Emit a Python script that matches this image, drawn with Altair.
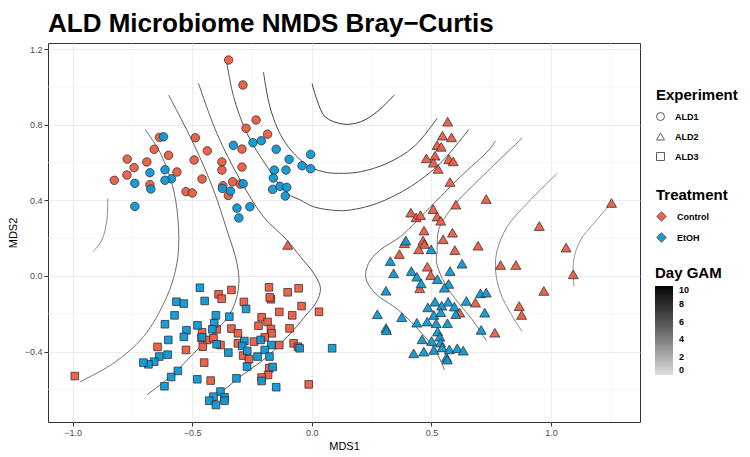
import altair as alt
import pandas as pd

# ---------------- point data ----------------
ald1_ctrl_x = [-0.348, -0.288, -0.233, -0.275, -0.185, -0.292, -0.637, -0.487, -0.659, -0.599,
               -0.437, -0.772, -0.690, -0.743, -0.773, -0.826, -0.677, -0.564, -0.492, -0.376,
               -0.376, -0.292, -0.459, -0.526, -0.500, -0.372, -0.331, -0.299, -0.349]
ald1_ctrl_y = [1.142, 1.010, 0.825, 0.781, 0.750, 0.671, 0.733, 0.731, 0.670, 0.638,
               0.662, 0.618, 0.603, 0.573, 0.534, 0.506, 0.483, 0.550, 0.613, 0.603,
               0.560, 0.576, 0.513, 0.446, 0.439, 0.477, 0.498, 0.486, 0.426]

ald1_etoh_x = [-0.620, -0.328, -0.246, -0.211, -0.149, -0.095, -0.005, -0.041, -0.005, -0.157,
               -0.108, -0.161, -0.164, -0.133, -0.105, -0.111, -0.287, -0.340, -0.374, -0.313,
               -0.259, -0.305, -0.614, -0.677, -0.587, -0.614, -0.740, -0.673, -0.740]
ald1_etoh_y = [0.736, 0.691, 0.705, 0.715, 0.670, 0.617, 0.643, 0.583, 0.567, 0.560,
               0.560, 0.518, 0.458, 0.474, 0.469, 0.423, 0.488, 0.449, 0.463, 0.359,
               0.366, 0.307, 0.562, 0.546, 0.514, 0.506, 0.490, 0.460, 0.368]

ald2_ctrl_x = [0.568, 0.546, 0.584, 0.524, 0.541, 0.479, 0.515, 0.508, 0.573, 0.591,
               0.528, 0.578, 0.729, 0.602, 0.414, 0.436, 0.454, 0.507, 0.524, 0.539,
               1.253, 0.951, 0.469, 0.588, 0.549, 0.465, 0.471, 0.447, 0.366, 0.387,
               0.598, 0.695, 1.063, 0.789, 0.853, 0.483, 0.497, 1.093, 0.451, 0.970,
               0.684, 0.867, 0.877, 0.765, 0.618, -0.101]
ald2_ctrl_y = [0.816, 0.742, 0.733, 0.692, 0.683, 0.622, 0.636, 0.599, 0.618, 0.606,
               0.566, 0.497, 0.407, 0.377, 0.335, 0.310, 0.322, 0.354, 0.314, 0.292,
               0.386, 0.264, 0.240, 0.229, 0.194, 0.187, 0.169, 0.141, 0.116, 0.173,
               0.137, 0.160, 0.150, 0.058, 0.058, 0.049, 0.005, 0.009, -0.065, -0.079,
               -0.141, -0.159, -0.206, -0.300, -0.194, 0.164]

ald2_etoh_x = [0.393, 0.499, 0.328, 0.342, 0.416, 0.439, 0.457, 0.525, 0.578, 0.628,
               0.572, 0.554, 0.310, 0.515, 0.570, 0.485, 0.543, 0.596, 0.646, 0.705,
               0.729, 0.723, 0.602, 0.510, 0.539, 0.274, 0.376, 0.439, 0.482, 0.520,
               0.567, 0.310, 0.312, 0.708, 0.526, 0.535, 0.461, 0.501, 0.538, 0.426,
               0.468, 0.510, 0.545, 0.575, 0.608, 0.633, 0.563, 0.566]
ald2_etoh_y = [0.187, 0.141, 0.079, 0.014, 0.026, -0.004, -0.039, -0.017, 0.026, 0.065,
               -0.042, -0.062, -0.078, -0.136, -0.136, -0.166, -0.157, -0.162, -0.132, -0.092,
               -0.088, -0.194, -0.202, -0.206, -0.192, -0.202, -0.218, -0.247, -0.241, -0.250,
               -0.250, -0.275, -0.287, -0.285, -0.294, -0.321, -0.335, -0.344, -0.352, -0.409,
               -0.400, -0.391, -0.377, -0.388, -0.382, -0.395, -0.430, -0.442]

ald3_ctrl_x = [-0.991, -0.390, -0.377, -0.336, -0.284, -0.179, -0.171, -0.176, -0.101, -0.055,
               0.030, -0.043, -0.136, -0.082, -0.210, -0.185, -0.223, -0.171, -0.168, -0.197,
               -0.093, -0.336, -0.309, -0.398, -0.459, -0.461, -0.437, -0.411, -0.456, -0.382,
               -0.309, -0.242, -0.136, -0.076, -0.058, -0.645, -0.526, -0.287, -0.263, -0.178,
               -0.183, -0.210, -0.450, -0.423, -0.013]
ald3_ctrl_y = [-0.529, -0.097, -0.120, -0.074, -0.137, -0.060, -0.123, -0.113, -0.086, -0.065,
               -0.189, -0.159, -0.190, -0.208, -0.218, -0.243, -0.263, -0.280, -0.303, -0.324,
               -0.277, -0.278, -0.303, -0.282, -0.298, -0.329, -0.338, -0.329, -0.374, -0.365,
               -0.356, -0.347, -0.365, -0.356, -0.374, -0.375, -0.391, -0.421, -0.440, -0.488,
               -0.523, -0.537, -0.458, -0.553, -0.573]

ald3_etoh_x = [-0.468, -0.448, -0.566, -0.535, -0.275, -0.574, -0.401, -0.345, -0.408, -0.416,
               -0.614, -0.524, -0.478, -0.535, -0.600, -0.459, -0.398, -0.282, -0.291, -0.270,
               -0.349, -0.214, -0.169, -0.197, -0.227, -0.177, -0.164, -0.271, -0.315, -0.210,
               -0.149, -0.051, 0.085, -0.603, -0.638, -0.659, -0.683, -0.704, -0.560, -0.588,
               -0.616, -0.479, -0.382, -0.411, -0.429, -0.401, -0.365, -0.365]
ald3_etoh_y = [-0.062, -0.132, -0.136, -0.146, -0.174, -0.208, -0.208, -0.215, -0.250, -0.282,
               -0.255, -0.287, -0.261, -0.322, -0.338, -0.324, -0.361, -0.344, -0.370, -0.396,
               -0.405, -0.338, -0.365, -0.391, -0.426, -0.426, -0.481, -0.479, -0.541, -0.555,
               -0.588, -0.382, -0.382, -0.416, -0.426, -0.453, -0.467, -0.458, -0.502, -0.534,
               -0.583, -0.546, -0.611, -0.638, -0.659, -0.682, -0.641, -0.659]

# ---------------- GAM contour lines (Day) ----------------
contour_levels = {"A": 7.0, "B": 6.4, "C": 6.1, "L4": 5.6, "L3": 5.2, "L2": 4.6, "L1": 3.5,
                  "D": 4.8, "E": 4.3, "F": 3.5, "G": 3.0}
contour_x = {
    "A": [0.001, 0.022, 0.056, 0.133, 0.203, 0.273, 0.345],
    "B": [-0.202, -0.190, -0.174, -0.144, -0.118, -0.076, -0.006, 0.064, 0.133, 0.203, 0.315, 0.426, 0.524],
    "C": [-0.355, -0.327, -0.271, -0.187, -0.104, -0.048, 0.008, 0.105, 0.161, 0.273, 0.412, 0.537, 0.656],
    "L4": [-0.474, -0.397, -0.299, -0.202, -0.104, -0.048, 0.008, 0.036, 0.018, -0.024, -0.076, -0.187, -0.299, -0.383],
    "L3": [-0.599, -0.495, -0.411, -0.355, -0.313, -0.306, -0.341, -0.467, -0.592, -0.690],
    "L2": [-0.697, -0.633, -0.578, -0.557, -0.564, -0.606, -0.704, -0.829, -0.969],
    "L1": [-0.853, -0.857, -0.878, -0.915],
    "D": [0.768, 0.740, 0.621, 0.510, 0.370, 0.286, 0.237, 0.226, 0.265, 0.362, 0.460, 0.516, 0.555],
    "E": [0.880, 0.713, 0.588, 0.531, 0.524, 0.522, 0.557, 0.614, 0.670, 0.730],
    "F": [1.026, 0.900, 0.817, 0.775, 0.768, 0.789, 0.831, 0.879],
    "G": [1.252, 1.179, 1.123, 1.095, 1.096],
}
contour_y = {
    "A": [1.018, 0.930, 0.841, 0.803, 0.815, 0.869, 0.957],
    "B": [1.077, 0.983, 0.888, 0.782, 0.719, 0.649, 0.576, 0.547, 0.543, 0.551, 0.596, 0.683, 0.834],
    "C": [1.124, 0.948, 0.754, 0.578, 0.437, 0.402, 0.366, 0.346, 0.349, 0.384, 0.472, 0.596, 0.775],
    "L4": [1.019, 0.754, 0.507, 0.313, 0.190, 0.102, 0.014, -0.064, -0.141, -0.206, -0.285, -0.427, -0.532, -0.620],
    "L3": [0.957, 0.701, 0.455, 0.243, 0.067, -0.057, -0.197, -0.374, -0.532, -0.629],
    "L2": [0.775, 0.649, 0.455, 0.243, 0.067, -0.109, -0.321, -0.461, -0.559],
    "L1": [0.411, 0.296, 0.190, 0.128],
    "D": [0.715, 0.666, 0.525, 0.384, 0.208, 0.138, 0.067, -0.012, -0.091, -0.180, -0.303, -0.391, -0.497],
    "E": [0.730, 0.527, 0.364, 0.247, 0.138, 0.068, -0.041, -0.144, -0.230, -0.342],
    "F": [0.543, 0.384, 0.261, 0.137, 0.032, -0.091, -0.197, -0.294],
    "G": [0.384, 0.279, 0.190, 0.085, -0.056],
}

minor_x = [-0.75, -0.25, 0.25, 0.75, 1.25]
minor_y = [-0.6, -0.2, 0.2, 0.6, 1.0]
major_x = [-1.0, -0.5, 0.0, 0.5, 1.0]
major_y = [-0.4, 0.0, 0.4, 0.8, 1.2]

experiments = ["ALD1", "ALD2", "ALD3"]
treatments = ["Control", "EtOH"]

# ---------------- tables ----------------
rows = []
for exp, trt, xs, ys in [
    ("ALD1", "Control", ald1_ctrl_x, ald1_ctrl_y),
    ("ALD1", "EtOH", ald1_etoh_x, ald1_etoh_y),
    ("ALD3", "Control", ald3_ctrl_x, ald3_ctrl_y),
    ("ALD3", "EtOH", ald3_etoh_x, ald3_etoh_y),
    ("ALD2", "Control", ald2_ctrl_x, ald2_ctrl_y),
    ("ALD2", "EtOH", ald2_etoh_x, ald2_etoh_y),
]:
    for x, y in zip(xs, ys):
        rows.append({"MDS1": x, "MDS2": y, "Experiment": exp, "Treatment": trt})
pts = pd.DataFrame(rows)
pts["ord"] = range(len(pts))

lrows = []
for name, lvl in contour_levels.items():
    for i, (x, y) in enumerate(zip(contour_x[name], contour_y[name])):
        lrows.append({"line": name, "i": i, "MDS1": x, "MDS2": y, "Day": lvl})
lines_df = pd.DataFrame(lrows)

FONT = "Liberation Sans"
x_scale = alt.Scale(domain=[-1.103, 1.372], nice=False, zero=False)
y_scale = alt.Scale(domain=[-0.772, 1.232], nice=False, zero=False)

ax_common = dict(format=".1f", grid=True, gridColor="#EBEBEB", gridWidth=1.1, domain=False,
                 tickColor="#333333", tickSize=4, tickWidth=1, labelColor="#4D4D4D",
                 labelFontSize=9, labelFont=FONT, labelPadding=2, titleFont=FONT,
                 titleFontSize=11, titleFontWeight="normal", titleColor="black")
axX = alt.Axis(values=major_x, titlePadding=3, **ax_common)
axY = alt.Axis(values=major_y, titlePadding=6, **ax_common)

X = lambda f: alt.X(f, scale=x_scale, axis=axX, title="MDS1")
Y = lambda f: alt.Y(f, scale=y_scale, axis=axY, title="MDS2")

minor_v = alt.Chart(pd.DataFrame({"v": minor_x})).mark_rule(color="#F0F0F0", strokeWidth=0.6).encode(x=X("v:Q"))
minor_h = alt.Chart(pd.DataFrame({"v": minor_y})).mark_rule(color="#F0F0F0", strokeWidth=0.6).encode(y=Y("v:Q"))

lines = alt.Chart(lines_df).mark_line(strokeWidth=1.0, interpolate="catmull-rom").encode(
    x=X("MDS1:Q"), y=Y("MDS2:Q"),
    detail="line:N", order="i:Q",
    stroke=alt.Stroke("Day:Q", scale=alt.Scale(domain=[0, 10], range=["#dedede", "#000000"]),
                      legend=alt.Legend(title="Day GAM", orient="none", legendX=607, legendY=223,
                                        gradientLength=89, gradientThickness=18,
                                        values=[0, 2, 4, 6, 8, 10], labelFontWeight="bold",
                                        labelFontSize=9, labelFont=FONT, titleFont=FONT,
                                        titleFontSize=15, titleFontWeight="bold", titleColor="black",
                                        labelColor="black", direction="vertical", titlePadding=5,
                                        labelOffset=6)),
)

shape_scale = alt.Scale(domain=experiments, range=["circle", "triangle-up", "square"])
fill_scale = alt.Scale(domain=treatments, range=["#EE5C42", "#0B98D6"])

shape_legend = alt.Legend(title="Experiment", orient="none", legendX=608, legendY=45,
                          titleFont=FONT, titleFontSize=15, titleFontWeight="bold",
                          titleColor="black", labelFont=FONT, labelFontSize=9,
                          labelFontWeight="bold", labelColor="black", symbolSize=64,
                          symbolFillColor="white", symbolStrokeColor="#555555",
                          symbolStrokeWidth=1, rowPadding=8, titlePadding=9, labelOffset=10)
fill_legend = alt.Legend(title="Treatment", orient="none", legendX=608, legendY=145,
                         titleFont=FONT, titleFontSize=15, titleFontWeight="bold",
                         titleColor="black", labelFont=FONT, labelFontSize=9,
                         labelFontWeight="bold", labelColor="black", symbolType="diamond",
                         symbolSize=90, symbolStrokeColor="#333333", symbolStrokeWidth=0.8,
                         rowPadding=8, titlePadding=8, labelOffset=10)


def point_layer(exps, size):
    return alt.Chart(pts).transform_filter(
        alt.FieldOneOfPredicate(field="Experiment", oneOf=exps)
    ).mark_point(filled=True, stroke="#2b2b2b", strokeWidth=0.8, opacity=0.95, size=size).encode(
        x=X("MDS1:Q"), y=Y("MDS2:Q"),
        shape=alt.Shape("Experiment:N", scale=shape_scale, legend=shape_legend),
        fill=alt.Fill("Treatment:N", scale=fill_scale, legend=fill_legend),
        order="ord:Q",
    )


circles = point_layer(["ALD1"], 72)
squares = point_layer(["ALD3"], 58)
triangles = point_layer(["ALD2"], 100)

chart = alt.layer(minor_v, minor_h, lines, circles, squares, triangles).properties(
    width=592, height=379,
    title=alt.TitleParams("ALD Microbiome NMDS Bray\u2212Curtis", anchor="start", frame="group",
                          fontSize=26, fontWeight="bold", font=FONT, color="black", offset=6),
    padding={"left": 40, "top": 35, "right": 100, "bottom": 35},
    autosize=alt.AutoSizeParams(type="none"),
).configure_view(stroke="#333333", strokeWidth=1)

chart.save("out.html", embed_options={"renderer": "svg", "actions": False})
